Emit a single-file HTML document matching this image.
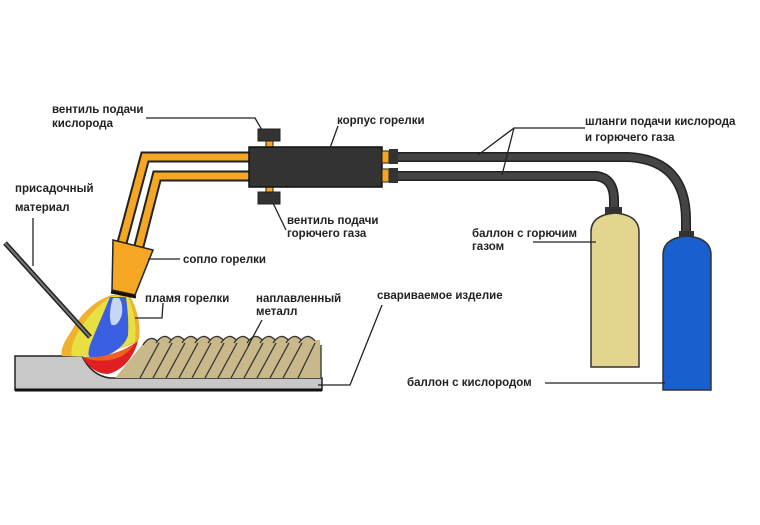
<!DOCTYPE html>
<html><head><meta charset="utf-8"><style>
html,body{margin:0;padding:0;background:#fff}
svg{display:block}
text{font-family:"Liberation Sans","DejaVu Sans",sans-serif;font-weight:bold;font-size:11.5px;fill:#222}
</style></head><body>
<svg width="760" height="525" viewBox="0 0 760 525" xmlns="http://www.w3.org/2000/svg">
<rect width="760" height="525" fill="#fff"/>
<!-- hoses -->
<path d="M396 157 H628 Q686 160 686 220 V232" fill="none" stroke="#222" stroke-width="10"/>
<path d="M396 157 H628 Q686 160 686 220 V232" fill="none" stroke="#444" stroke-width="7"/>
<path d="M396 176 H596 Q614 178 614 200 V208" fill="none" stroke="#222" stroke-width="10"/>
<path d="M396 176 H596 Q614 178 614 200 V208" fill="none" stroke="#444" stroke-width="7"/>
<!-- cylinders -->
<rect x="605" y="207" width="17" height="8" fill="#333"/>
<path d="M591 367 V232 Q591 215 615 213 Q639 215 639 232 V367 Z" fill="#e3d48e" stroke="#333" stroke-width="1.5"/>
<rect x="679" y="231" width="15" height="8" fill="#333"/>
<path d="M663 390 V255 Q663 238 687 236 Q711 238 711 255 V390 Z" fill="#1a5fd0" stroke="#333" stroke-width="1.5"/>
<!-- orange tubes -->
<path d="M252 157 H145 L122 243" fill="none" stroke="#222" stroke-width="11"/>
<path d="M252 157 H145 L122 243" fill="none" stroke="#f5a623" stroke-width="7"/>
<path d="M252 176 H157 L139 246" fill="none" stroke="#222" stroke-width="11"/>
<path d="M252 176 H157 L139 246" fill="none" stroke="#f5a623" stroke-width="7"/>
<!-- torch body -->
<rect x="266" y="139" width="7" height="9" fill="#f5a623" stroke="#222"/>
<rect x="258" y="129" width="22" height="12" fill="#333" stroke="#222"/>
<rect x="266" y="186" width="7" height="8" fill="#f5a623" stroke="#222"/>
<rect x="258" y="192" width="22" height="12" fill="#333" stroke="#222"/>
<rect x="249" y="147" width="133" height="40" fill="#333" stroke="#111" stroke-width="1.5"/>
<rect x="382" y="151" width="7" height="12" fill="#f5a623" stroke="#222"/>
<rect x="382" y="169" width="7" height="13" fill="#f5a623" stroke="#222"/>
<rect x="389" y="149" width="9" height="15" fill="#333"/>
<rect x="389" y="168" width="9" height="15" fill="#333"/>
<!-- workpiece -->
<path d="M15 356 H82 Q92 376 110 378 H322 V390 H15 Z" fill="#c8c8c8" stroke="#222" stroke-width="1.5"/>
<line x1="15" y1="390" x2="322" y2="390" stroke="#111" stroke-width="3"/>
<!-- weld bead -->
<g>
<path d="M115 378 L142 345 Q148 334 156 340 L320 340 L322 378 Z" fill="#c9b98a"/>
<g fill="#c9b98a" stroke="#333" stroke-width="1.3">
<path d="M143 345 q8 -12 16 -2"/><path d="M156 343 q8 -12 16 -2"/><path d="M169 343 q8 -12 16 -2"/><path d="M182 343 q8 -12 16 -2"/><path d="M195 343 q8 -12 16 -2"/><path d="M208 343 q8 -12 16 -2"/><path d="M221 343 q8 -12 16 -2"/><path d="M234 343 q8 -12 16 -2"/><path d="M247 343 q8 -12 16 -2"/><path d="M260 343 q8 -12 16 -2"/><path d="M273 343 q8 -12 16 -2"/><path d="M286 343 q8 -12 16 -2"/><path d="M299 343 q8 -12 16 -2"/>
</g>
<g stroke="#333" stroke-width="1.3">
<line x1="159" y1="343" x2="140" y2="378"/><line x1="172" y1="343" x2="153" y2="378"/><line x1="185" y1="343" x2="166" y2="378"/><line x1="198" y1="343" x2="179" y2="378"/><line x1="211" y1="343" x2="192" y2="378"/><line x1="224" y1="343" x2="205" y2="378"/><line x1="237" y1="343" x2="218" y2="378"/><line x1="250" y1="343" x2="231" y2="378"/><line x1="263" y1="343" x2="244" y2="378"/><line x1="276" y1="343" x2="257" y2="378"/><line x1="289" y1="343" x2="270" y2="378"/><line x1="302" y1="343" x2="283" y2="378"/><line x1="315" y1="343" x2="298" y2="378"/>
<line x1="321" y1="345" x2="321" y2="378"/>
</g>
</g>
<!-- flame -->
<path d="M112 295 C95 300 80 315 72 330 C64 342 60 350 62 356 L96 357 L138 342 C142 330 138 310 130 296 Z" fill="#f0b030"/>
<path d="M112 296 C98 305 86 318 78 332 C72 344 70 352 72 356 L96 357 L135 342 C137 328 134 310 128 297 Z" fill="#e8e040"/>
<path d="M110 297 C104 312 96 330 90 345 C88 352 88 356 90 357 L104 357 C116 352 126 344 128 335 C129 320 127 305 126 297 Z" fill="#3a5fe0"/>
<path d="M113 298 C110 306 109 316 111 324 C115 328 120 322 122 314 C123 306 121 300 119 298 Z" fill="#c8d6f5"/>
<path d="M82 357 C88 366 96 374 108 374 C124 370 134 356 138 341 C126 350 110 356 96 357 Z" fill="#e02020"/>
<path d="M83 357 C94 362 110 362 122 356 C128 352 132 348 134 345 C120 352 106 356 96 357 Z" fill="#f06020"/>
<!-- nozzle -->
<path d="M113 240 L153 250 L135 295 L112 290 Z" fill="#f5a623" stroke="#222" stroke-width="1.5"/>
<line x1="111" y1="292" x2="136" y2="297" stroke="#111" stroke-width="3"/>
<!-- filler rod -->
<line x1="5" y1="243" x2="90" y2="337" stroke="#222" stroke-width="5"/>
<line x1="5" y1="243" x2="90" y2="337" stroke="#777" stroke-width="2"/>
<!-- leaders -->
<g stroke="#222" stroke-width="1.3" fill="none">
<polyline points="146,118 255,118 262,130"/>
<line x1="338" y1="126" x2="330" y2="148"/>
<polyline points="585,128 514,128 478,155"/>
<line x1="514" y1="128" x2="502" y2="175"/>
<line x1="33" y1="218" x2="33" y2="266"/>
<line x1="286" y1="230" x2="273" y2="203"/>
<line x1="148" y1="259" x2="180" y2="259"/>
<polyline points="163,303 162,318 135,318"/>
<line x1="262" y1="320" x2="248" y2="346"/>
<polyline points="382,305 350,385 318,385"/>
<line x1="533" y1="242" x2="596" y2="242"/>
<line x1="545" y1="383" x2="665" y2="383"/>
</g>
<!-- labels -->
<text x="52" y="113">вентиль подачи</text>
<text x="52" y="127">кислорода</text>
<text x="337" y="124">корпус горелки</text>
<text x="585" y="125">шланги подачи кислорода</text>
<text x="585" y="141">и горючего газа</text>
<text x="15" y="192">присадочный</text>
<text x="15" y="211">материал</text>
<text x="287" y="224">вентиль подачи</text>
<text x="287" y="237">горючего газа</text>
<text x="183" y="263">сопло горелки</text>
<text x="145" y="302">пламя горелки</text>
<text x="256" y="302">наплавленный</text>
<text x="256" y="315">металл</text>
<text x="377" y="299">свариваемое изделие</text>
<text x="472" y="237">баллон с горючим</text>
<text x="472" y="250">газом</text>
<text x="407" y="386">баллон с кислородом</text>
</svg>
</body></html>
